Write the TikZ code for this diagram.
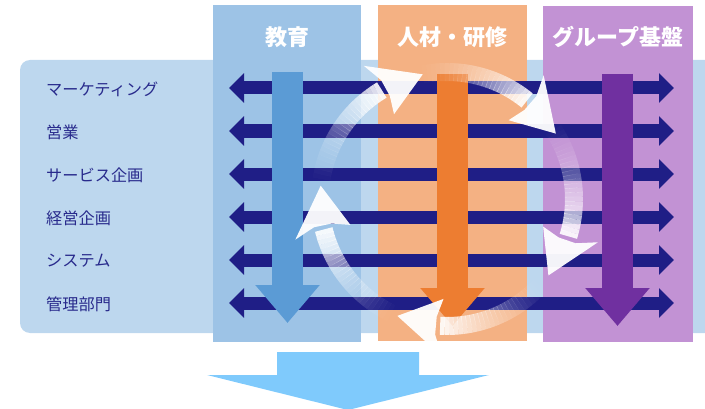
\documentclass[tikz,border=0pt]{standalone}
\usepackage{fontspec}
\setmainfont{Noto Sans CJK JP}
\usetikzlibrary{arrows.meta}
\definecolor{kbback}{RGB}{189,215,238}
\definecolor{kbblue}{RGB}{157,195,230}
\definecolor{kborange}{RGB}{244,177,131}
\definecolor{kbpurple}{RGB}{194,146,212}
\definecolor{kbnavy}{RGB}{31,30,134}
\definecolor{kbtext}{RGB}{40,42,140}
\definecolor{kbdarkblue}{RGB}{91,155,213}
\definecolor{kbdarkorange}{RGB}{237,125,49}
\definecolor{kbdarkpurple}{RGB}{112,48,160}
\definecolor{kbsky}{RGB}{127,202,252}

\tikzset{
  header/.style={text=white, font=\fontsize{22}{26}\selectfont\bfseries},
  rowlabel/.style={text=kbtext, anchor=west, inner sep=0pt, font=\fontsize{16.2}{19}\selectfont},
  hbar/.style={kbnavy, line width=13pt, {Triangle[length=15pt,width=29pt]}-{Triangle[length=15pt,width=29pt]}},
  vbar/.style={line width=31pt, -{Triangle[length=38pt,width=62pt]}},
}

% Flecha curva del ciclo (angulo de la punta)
\newcommand{\cyclearrow}[1]{%
  \foreach \k in {0,...,25} {
    \pgfmathsetmacro{\a}{#1+72-2*\k}
    \pgfmathsetmacro{\o}{0.9*((\k+1)/26)^1.6}
    \draw[white, line width=18pt, opacity=\o] (\a:127pt) arc[start angle=\a, end angle=\a-2.1, radius=127pt];
  }
  \fill[white, opacity=0.95] (#1:127pt) -- (#1+21:100pt) -- (#1+18:118pt) -- (#1+18:136pt) -- (#1+21:157pt) -- cycle;
}

\begin{document}
\begin{tikzpicture}[x=1pt,y=1pt]
\clip (0,0) rectangle (705,408);

% Fondo
\fill[kbback, rounded corners=10pt] (20,75) rectangle (740,348);

% Columnas
\fill[kbblue] (213,66) rectangle (361,403);
\fill[kborange] (378,67) rectangle (527,403);
\fill[kbpurple] (543,66) rectangle (693,402);

% Titulos de columnas
\node[header] (edu) at (287,371) {教育};
\node[header] (hr) at (452.5,371) {人材・研修};
\node[header] (grp) at (618,371) {グループ基盤};

% Filas con flechas dobles
\foreach \name [count=\i from 0] in {マーケティング,営業,サービス企画,経営企画,システム,管理部門} {
  \node[rowlabel] (row\i) at (46,{319-43*\i}) {\name};
  \coordinate (left\i) at (229,{320-43*\i});
  \coordinate (right\i) at (674,{320-43*\i});
  \draw[hbar] (left\i) -- (right\i);
}

% Flechas verticales
\coordinate (edutop) at (287.5,336);
\coordinate (edutip) at (287.5,85);
\coordinate (hrtop) at (452.5,334);
\coordinate (hrtip) at (452.5,82);
\coordinate (grptop) at (617.5,334);
\coordinate (grptip) at (617.5,82);
\draw[vbar, kbdarkblue] (edutop) -- (edutip);
\draw[vbar, kbdarkorange] (hrtop) -- (hrtip);
\draw[vbar, kbdarkpurple] (grptop) -- (grptip);

% Ciclo de flechas blancas
\begin{scope}[shift={(447,209)}]
  \foreach \t in {101,31,-37,-113,174} {
    \cyclearrow{\t}
  }
\end{scope}

% Flecha inferior
\fill[kbsky] (277,56) -- (419,56) -- (419,33) -- (489,33) -- (348,-2) -- (207,33) -- (277,33) -- cycle;

\end{tikzpicture}
\end{document}
